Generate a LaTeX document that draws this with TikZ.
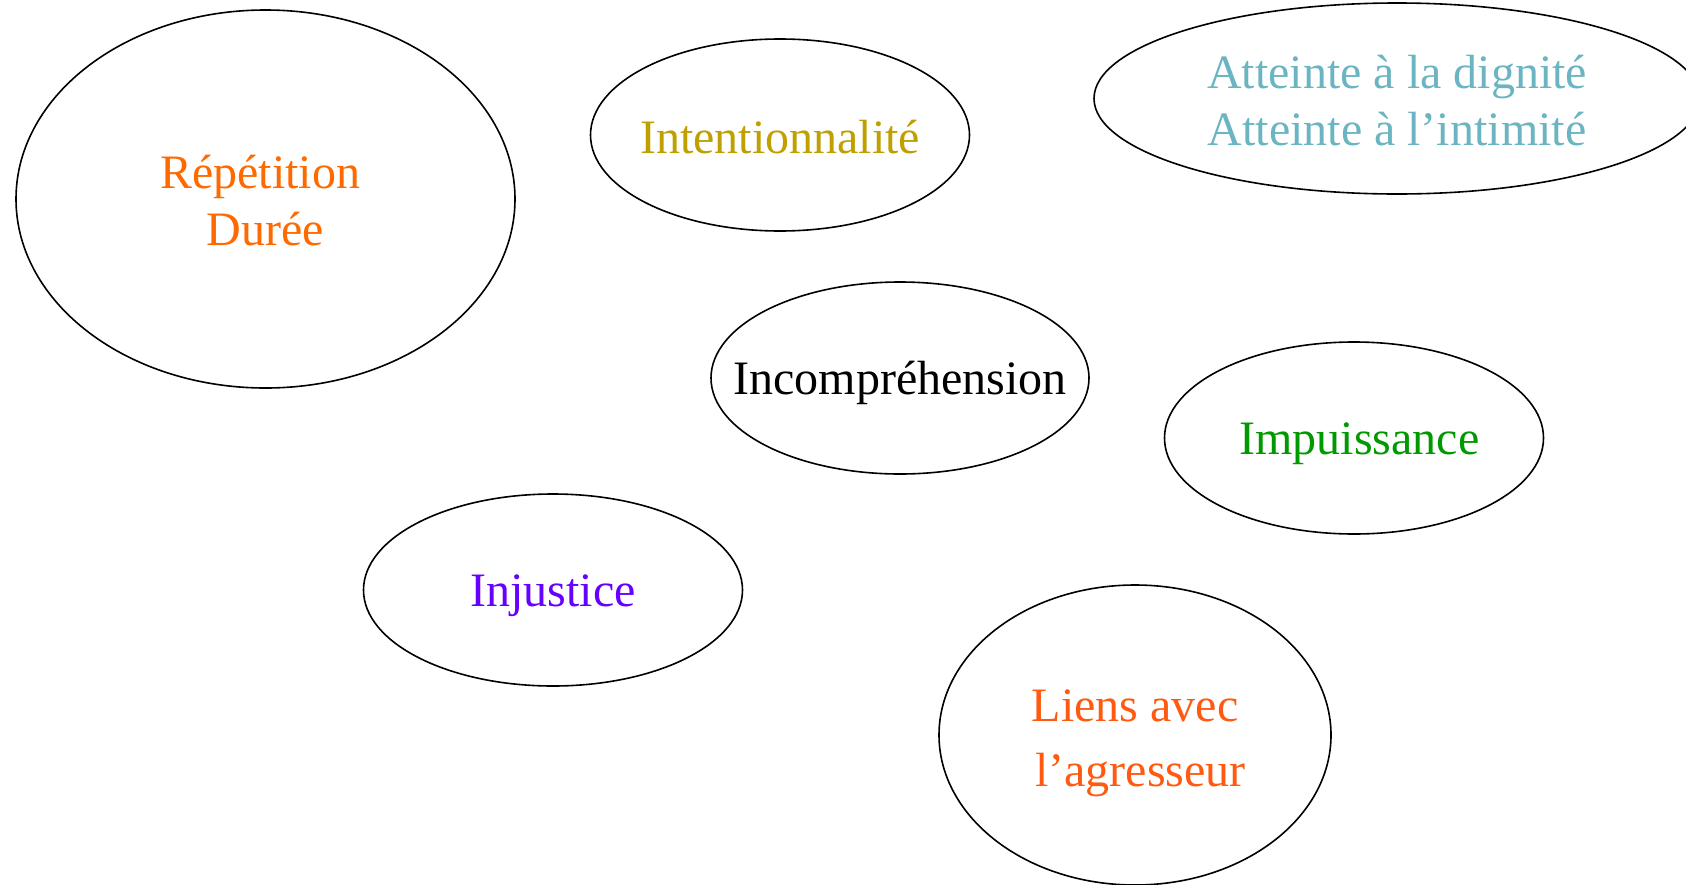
\documentclass[tikz,border=0pt]{standalone}
\usepackage{fontspec}
\setmainfont{Liberation Serif}
\usepackage{tikz}
\usetikzlibrary{positioning, shapes.geometric}
\definecolor{orangerep}{RGB}{255,106,0}
\definecolor{orliens}{RGB}{255,90,16}
\definecolor{olive}{RGB}{192,160,0}
\definecolor{bleuatt}{RGB}{107,181,194}
\definecolor{vertimp}{RGB}{0,153,0}
\definecolor{violetinj}{RGB}{102,0,255}
\tikzset{
  bulle/.style = {ellipse, draw=black, line width=0.8pt, inner sep=0pt},
  idee/.style = {align=center, inner sep=0pt, text centered,
    font=\fontsize{24}{28.5}\selectfont}
}

\begin{document}
\begin{tikzpicture}[x=0.5pt, y=-0.5pt]
\useasboundingbox (0,0) rectangle (1686,884);
\node [bulle, minimum width=249.5pt, minimum height=189pt] (repetition) at (265.5,199) {};
\node [bulle, minimum width=189.5pt, minimum height=96pt] (intention) at (780,135) {};
\node [bulle, minimum width=303pt, minimum height=95.5pt] (atteinte) at (1397,98.5) {};
\node [bulle, minimum width=189pt, minimum height=96pt] (incomp) at (900,378) {};
\node [bulle, minimum width=189.5pt, minimum height=96pt] (impuiss) at (1354,438) {};
\node [bulle, minimum width=189.5pt, minimum height=96pt] (injustice) at (553,590) {};
\node [bulle, minimum width=196pt, minimum height=150pt] (liens) at (1135,735) {};
\node [idee, text=orangerep] (txtrep) at ([yshift=-1pt]repetition.center) {Répétition\kern5.4pt\\Durée};
\node [idee, text=olive] (txtint) at ([yshift=-1pt]intention.center) {Intentionnalité};
\node [idee, text=bleuatt] (txtatt) at ([yshift=-1pt]atteinte.center) {Atteinte à la dignité\\Atteinte à l’intimité};
\node [idee, text=black] (txtinc) at ([yshift=-2.7pt]incomp.center) {Incompréhension};
\node [idee, text=vertimp] (txtimp) at ([xshift=2.7pt, yshift=-3pt]impuiss.center) {Impuissance};
\node [idee, text=violetinj] (txtinj) at ([yshift=-3pt]injustice.center) {Injustice};
\node [idee, text=orliens] (txtlie) at ([yshift=-4pt]liens.center) {Liens avec\\[4pt]\kern5.4pt l’agresseur};
\end{tikzpicture}
\end{document}
